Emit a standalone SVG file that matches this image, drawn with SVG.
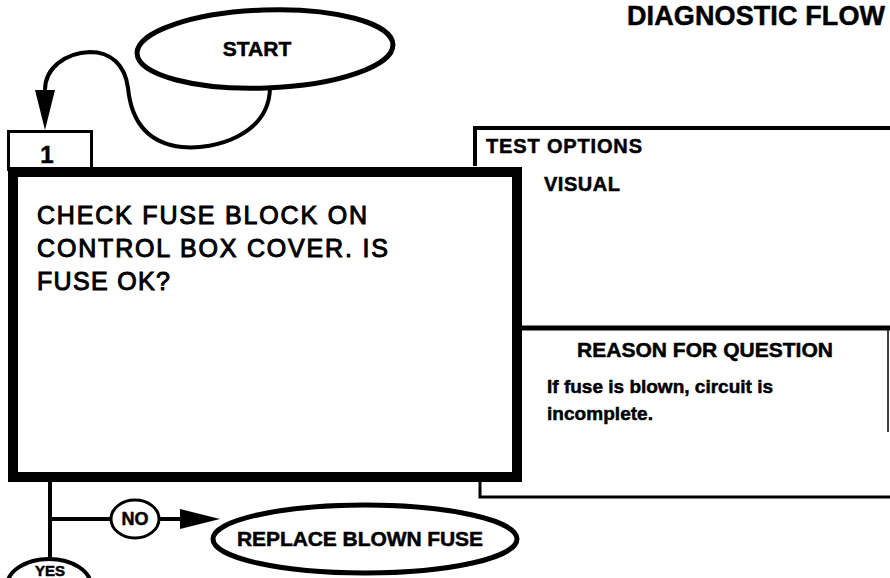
<svg xmlns="http://www.w3.org/2000/svg" width="890" height="578" viewBox="0 0 890 578">
<style>
  .hd { font-family: "Liberation Sans", Arial, sans-serif; font-weight: bold; fill: #000; stroke: #000; stroke-width: 0.5; }
  .body { font-family: "Liberation Sans", Arial, sans-serif; font-weight: normal; fill: #000; stroke: #000; stroke-width: 1; }
  .ln { fill: none; stroke: #000; stroke-linecap: butt; stroke-linejoin: miter; }
  .oval { fill: #fff; stroke: #000; }
</style>
<defs>
  <marker id="arrow" viewBox="0 -11 40 22" refX="0" refY="0" markerWidth="40" markerHeight="22" markerUnits="userSpaceOnUse" orient="auto">
    <path d="M0,-10 L40,0 L0,10 z" fill="#000"/>
  </marker>
</defs>
<rect x="0" y="0" width="890" height="578" fill="#fff"/>

<g id="title">
  <text class="hd" x="627" y="25" font-size="27" textLength="258" lengthAdjust="spacing">DIAGNOSTIC FLOW</text>
</g>

<g id="connectors">
  <path class="ln" stroke-width="4" d="M270 88 C 269 135, 215 150, 182 147 C 145 143, 131 118, 128 88 C 125 64, 110 52, 90 52 C 65 53, 45 68, 45 90" marker-end="url(#arrow)"/>
  <path class="ln" stroke-width="4" d="M50 482 L50 559"/>
  <path class="ln" stroke-width="4" d="M50 519 L111 519"/>
  <path class="ln" stroke-width="4" d="M159 519 L180 519" marker-end="url(#arrow)"/>
</g>

<g id="start">
  <ellipse class="oval" cx="265" cy="49" rx="128" ry="39" stroke-width="5" transform="rotate(-2 265 49)"/>
  <text class="hd" x="257" y="56" font-size="21" text-anchor="middle">START</text>
</g>

<g id="test-options">
  <path class="ln" stroke-width="4" d="M475 166 L475 128 L890 128"/>
  <text class="hd" x="486" y="153" font-size="20" textLength="156" lengthAdjust="spacing">TEST OPTIONS</text>
  <text class="hd" x="544" y="191" font-size="20" textLength="76" lengthAdjust="spacing">VISUAL</text>
</g>

<g id="reason">
  <path class="ln" stroke-width="5" d="M520 328 L890 328"/>
  <path class="ln" stroke-width="1.5" stroke="#555" d="M888 330 L888 432"/>
  <path class="ln" stroke-width="3" d="M480 482 L480 497 L890 497"/>
  <text class="hd" x="705" y="357" font-size="21" text-anchor="middle" textLength="256" lengthAdjust="spacing">REASON FOR QUESTION</text>
  <text class="hd" x="547" y="393" font-size="19" textLength="226" lengthAdjust="spacing">If fuse is blown, circuit is</text>
  <text class="hd" x="547" y="420" font-size="19" textLength="106" lengthAdjust="spacing">incomplete.</text>
</g>

<g id="step1-number">
  <rect x="8.5" y="131.5" width="83" height="38" fill="#fff" stroke="#000" stroke-width="3"/>
  <text class="hd" x="47" y="163" font-size="24" text-anchor="middle">1</text>
</g>

<g id="step1">
  <rect x="13" y="172" width="504" height="305" fill="#fff" stroke="#000" stroke-width="10"/>
  <text class="body" x="37" y="224" font-size="25" textLength="330" lengthAdjust="spacing">CHECK FUSE BLOCK ON</text>
  <text class="body" x="37" y="257" font-size="25" textLength="351" lengthAdjust="spacing">CONTROL BOX COVER. IS</text>
  <text class="body" x="37" y="290" font-size="25" textLength="133" lengthAdjust="spacing">FUSE OK?</text>
</g>

<g id="no-label">
  <ellipse class="oval" cx="135" cy="519" rx="24" ry="19" stroke-width="3"/>
  <text class="hd" x="135" y="525" font-size="18" text-anchor="middle">NO</text>
</g>

<g id="replace-fuse">
  <ellipse class="oval" cx="365" cy="539" rx="152" ry="34" stroke-width="5"/>
  <text class="hd" x="360" y="546" font-size="21" text-anchor="middle" textLength="246" lengthAdjust="spacing">REPLACE BLOWN FUSE</text>
</g>

<g id="yes">
  <ellipse class="oval" cx="49" cy="586" rx="42" ry="27" stroke-width="4"/>
  <text class="hd" x="50" y="576" font-size="15" text-anchor="middle">YES</text>
</g>
</svg>
